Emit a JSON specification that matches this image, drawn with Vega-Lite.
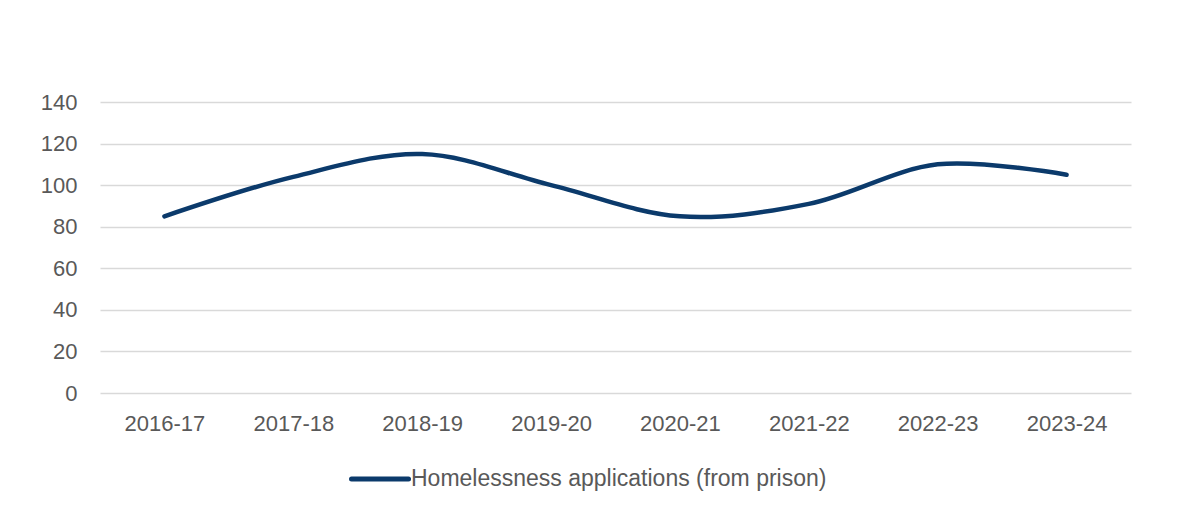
{
  "$schema": "https://vega.github.io/schema/vega-lite/v6.json",
  "autosize": {"type": "none"},
  "width": 1031,
  "height": 291,
  "padding": {"left": 100, "top": 102, "right": 72, "bottom": 122},
  "background": "white",
  "config": {
    "view": {"stroke": null},
    "font": "Liberation Sans",
    "axis": {"labelFont": "Liberation Sans", "labelColor": "#595959", "labelFontSize": 22}
  },
  "data": {
    "values": [
      {"year": "2016-17", "value": 85, "series": "Homelessness applications (from prison)"},
      {"year": "2017-18", "value": 104, "series": "Homelessness applications (from prison)"},
      {"year": "2018-19", "value": 115, "series": "Homelessness applications (from prison)"},
      {"year": "2019-20", "value": 100, "series": "Homelessness applications (from prison)"},
      {"year": "2020-21", "value": 85, "series": "Homelessness applications (from prison)"},
      {"year": "2021-22", "value": 91, "series": "Homelessness applications (from prison)"},
      {"year": "2022-23", "value": 110, "series": "Homelessness applications (from prison)"},
      {"year": "2023-24", "value": 105, "series": "Homelessness applications (from prison)"}
    ]
  },
  "mark": {"type": "line", "interpolate": "catmull-rom", "strokeWidth": 4.5, "strokeCap": "round"},
  "encoding": {
    "x": {
      "field": "year", "type": "ordinal", "title": null,
      "scale": {"type": "point", "padding": 0.5},
      "axis": {"domain": false, "ticks": false, "labelAngle": 0, "labelPadding": 20, "grid": false}
    },
    "y": {
      "field": "value", "type": "quantitative", "title": null,
      "scale": {"domain": [0, 140], "nice": false},
      "axis": {"values": [0, 20, 40, 60, 80, 100, 120, 140], "domain": false, "ticks": false, "labelPadding": 23, "grid": true, "gridColor": "#d9d9d9", "gridWidth": 1.5}
    },
    "color": {
      "field": "series", "type": "nominal",
      "scale": {"range": ["#0b3a6b"]},
      "legend": {
        "title": null, "orient": "none", "legendX": 249, "legendY": 346, "direction": "horizontal",
        "padding": 0,
        "symbolType": "stroke", "symbolSize": 3249, "symbolStrokeWidth": 5,
        "labelFont": "Liberation Sans", "labelFontSize": 23, "labelColor": "#595959",
        "labelOffset": 0, "labelLimit": 700,
        "encode": {"symbols": {"update": {"strokeCap": {"value": "round"}}}}
      }
    }
  }
}
